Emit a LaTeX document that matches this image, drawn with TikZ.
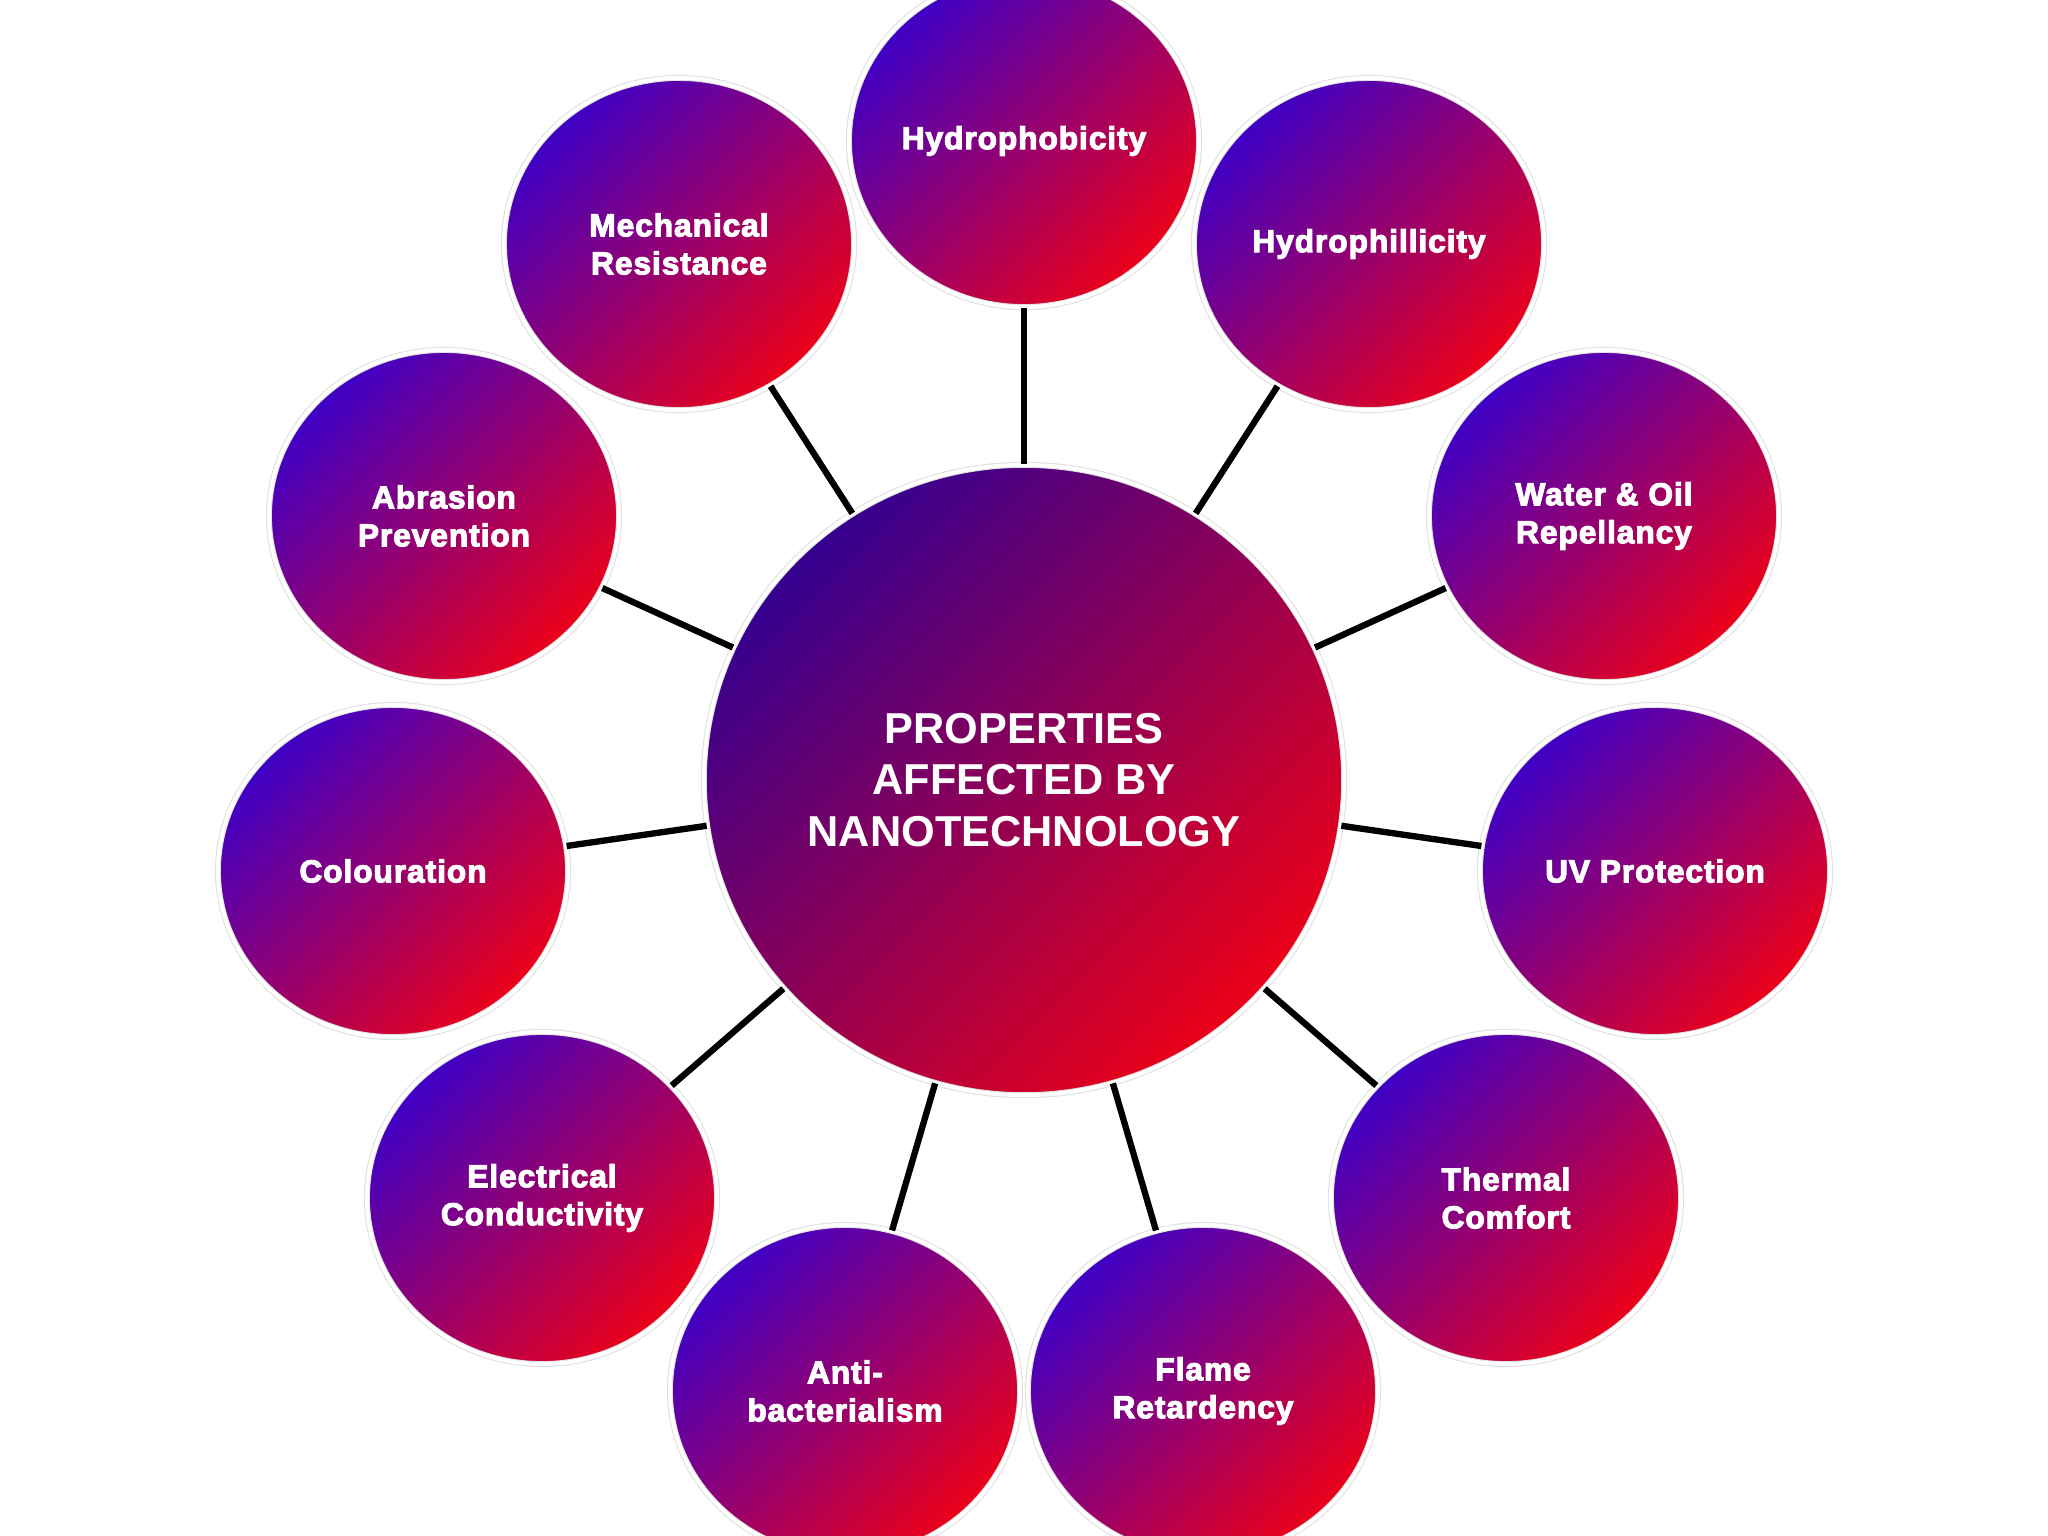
\documentclass[tikz,border=0pt]{standalone}
\usepackage{fontspec}
\setmainfont{Liberation Sans}
\newfontfamily\heavyfont[FakeBold=3.5,LetterSpace=3]{Liberation Sans Bold}
\usetikzlibrary{shapes.geometric}
\definecolor{bluetop}{HTML}{3E00C6}
\definecolor{magmid}{HTML}{A0007C}
\definecolor{redbot}{HTML}{EC0018}
\definecolor{inktop}{HTML}{340090}

\begin{document}
\begin{tikzpicture}[x=0.01cm,y=-0.01cm,
  prop/.style={ellipse,minimum width=3.5cm,minimum height=3.32cm,inner sep=0pt,
    top color=bluetop,middle color=magmid,bottom color=redbot,shading angle=45,
    draw=black!12,line width=.3pt,double=white,double distance=1.1pt,
    text=white,align=center,font=\heavyfont\fontsize{9}{10.8}\selectfont},
  core/.style={prop,minimum width=6.4cm,minimum height=6.3cm,top color=inktop,
    middle color=magmid,bottom color=redbot,shading angle=45,
    font=\bfseries\fontsize{12.3}{14.6}\selectfont},
  link/.style={line width=1.8pt,black}]
\useasboundingbox (0,0) rectangle (2048,1536);
\fill[white] (0,0) rectangle (2048,1536);
\node[core] (ctr) at (1024,780) {PROPERTIES\\AFFECTED BY\\NANOTECHNOLOGY};
\node[prop] (hpb) at (1024,141) {Hydrophobicity};
\node[prop] (hpl) at (1369,244) {Hydrophillicity};
\node[prop] (wor) at (1604,516) {Water \& Oil\\Repellancy};
\node[prop] (uvp) at (1655,871) {UV Protection};
\node[prop] (thc) at (1506,1198) {Thermal\\Comfort};
\node[prop] (flr) at (1203,1391) {Flame\\Retardency};
\node[prop] (abc) at (845,1391) {Anti-\\bacterialism};
\node[prop] (elc) at (542,1198) {Electrical\\Conductivity};
\node[prop] (col) at (393,871) {Colouration};
\node[prop] (abr) at (444,516) {Abrasion\\Prevention};
\node[prop] (mec) at (679,244) {Mechanical\\Resistance};
\foreach \n in {hpb,hpl,wor,uvp,thc,flr,abc,elc,col,abr,mec}
  \draw[link] (ctr) -- (\n);
\end{tikzpicture}
\end{document}
